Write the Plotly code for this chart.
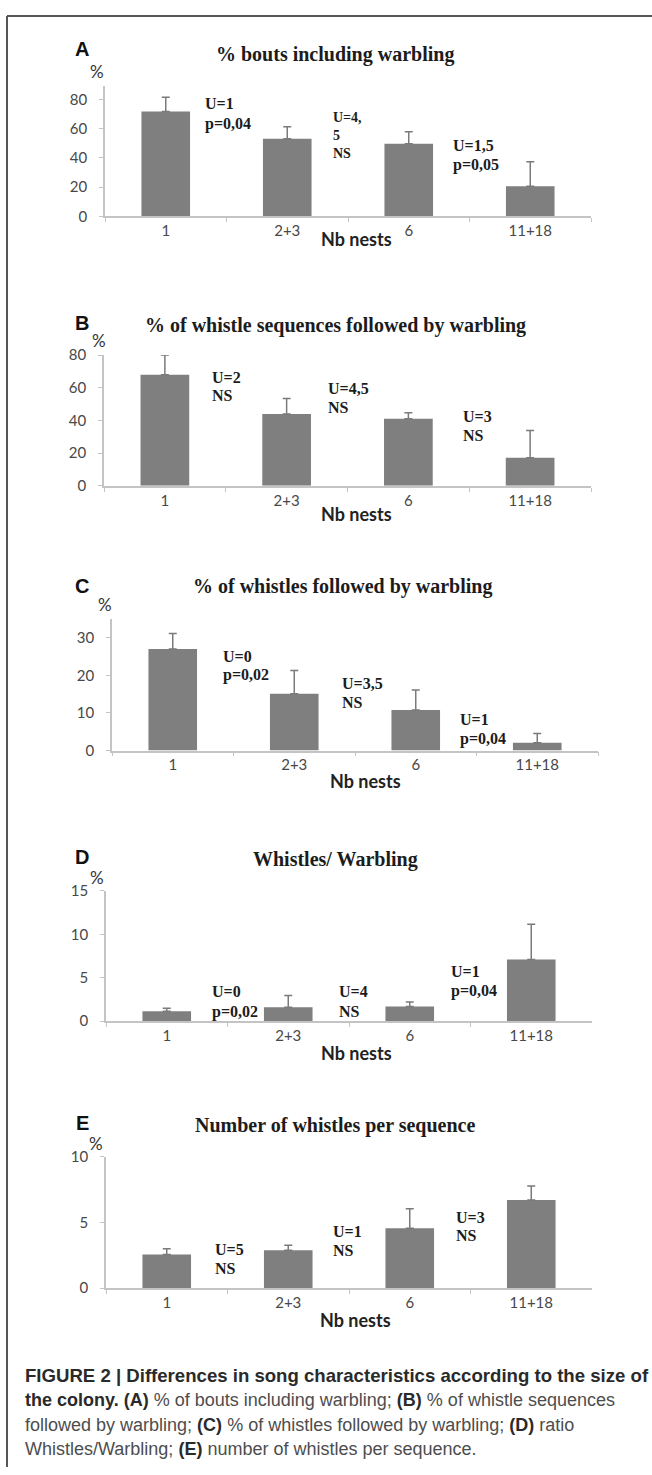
import plotly.graph_objects as go

W, H = 652, 1475

categories = ["1", "2+3", "6", "11+18"]

# Panel values (bar height) and upper error (SD above mean)
a_vals = [71.8, 53.2, 49.8, 20.7]
a_err = [9.7, 8.1, 8.1, 16.7]
b_vals = [67.9, 43.9, 41.1, 17.1]
b_err = [12.1, 9.5, 3.6, 16.8]
c_vals = [27.0, 15.1, 10.8, 2.1]
c_err = [4.1, 6.2, 5.3, 2.4]
d_vals = [1.15, 1.6, 1.7, 7.1]
d_err = [0.35, 1.35, 0.5, 4.05]
e_vals = [2.56, 2.88, 4.56, 6.69]
e_err = [0.44, 0.38, 1.48, 1.08]

titles = ["% bouts including warbling",
          "% of whistle sequences followed by warbling",
          "% of whistles followed by warbling",
          "Whistles/ Warbling",
          "Number of whistles per sequence"]
letters = ["A", "B", "C", "D", "E"]

a_stats = ["U=1", "p=0,04", "U=4,<br>5<br>NS", "U=1,5", "p=0,05"]
b_stats = ["U=2", "NS", "U=4,5", "NS", "U=3", "NS"]
c_stats = ["U=0", "p=0,02", "U=3,5", "NS", "U=1", "p=0,04"]
d_stats = ["U=0", "p=0,02", "U=4", "NS", "U=1", "p=0,04"]
e_stats = ["U=5", "NS", "U=1", "NS", "U=3", "NS"]

y_ranges = [[0, 89.5], [0, 80], [0, 35], [0, 15], [0, 10]]
y_ticks = [[0, 20, 40, 60, 80], [0, 20, 40, 60, 80], [0, 10, 20, 30], [0, 5, 10, 15], [0, 5, 10]]

# ---------- layout geometry (pixels) ----------
plot_boxes = [  # x0, x1, y_bottom, y_top
    (105, 591, 209.0, 76.5),
    (104, 591, 481.7, 349.3),
    (112, 598, 749.7, 616.4),
    (106, 592, 1023.7, 891.7),
    (106, 592, 1294.0, 1160.7),
]
letter_pos = [(82, 39), (82, 317), (82, 583), (82, 857), (82, 1127)]
title_pos = [(335, 45), (335, 319), (342, 584), (335, 860), (335, 1129)]
pct_pos = [(97, 62), (99, 335), (105, 602), (97, 878), (96, 1147)]
nb_pos = [(357, 232), (357, 510), (365, 781), (356, 1056), (355, 1326)]
stat_pos = [
    [(203, 95), (203, 115), (331, 127, 14), (451, 137), (451, 157)],
    [(210, 372), (210, 390), (326, 383), (326, 402), (461, 412), (461, 431)],
    [(221, 654), (221, 673), (340, 682), (340, 701), (458, 718), (458, 738)],
    [(210, 994), (210, 1014), (337, 994), (337, 1014), (449, 973), (449, 993)],
    [(213, 1255), (213, 1274), (331, 1237), (331, 1256), (454, 1222), (454, 1241)],
]


def px(x):
    return x / W


def py(y):
    return 1 - y / H


values = [a_vals, b_vals, c_vals, d_vals, e_vals]
errors = [a_err, b_err, c_err, d_err, e_err]
stats = [a_stats, b_stats, c_stats, d_stats, e_stats]

BAR = "#7f7f7f"
AXIS = "#c4c4c4"
TXT = "#1c1c1c"
TICK_TXT = "#484848"

fig = go.Figure()
annotations = []
layout_axes = {}

for i in range(5):
    n = "" if i == 0 else str(i + 1)
    fig.add_trace(go.Bar(
        x=categories, y=values[i],
        xaxis="x" + n, yaxis="y" + n,
        marker=dict(color=BAR, line=dict(width=0)),
        width=0.4,
        error_y=dict(type="data", symmetric=False, array=errors[i],
                     arrayminus=[0] * 4, color="#7a7a7a", thickness=1.5, width=4),
        showlegend=False, hoverinfo="skip",
    ))
    x0, x1, yb, yt = plot_boxes[i]
    layout_axes["xaxis" + n] = dict(
        domain=[px(x0), px(x1)], anchor="y" + n,
        type="category", range=[-0.5, 3.5],
        showline=True, linecolor=AXIS, linewidth=1.5,
        ticks="outside", ticklen=4, tickcolor=AXIS, tickwidth=1.2,
        tickson="boundaries", showgrid=False, zeroline=False,
        tickfont=dict(family="Lato", size=15, color=TICK_TXT),
        fixedrange=True,
    )
    layout_axes["yaxis" + n] = dict(
        domain=[py(yb), py(yt)], anchor="x" + n,
        range=y_ranges[i], tickvals=y_ticks[i],
        showline=True, linecolor=AXIS, linewidth=1.5,
        ticks="outside", ticklen=4, tickcolor=AXIS, tickwidth=1.2,
        ticklabelstandoff=9,
        showgrid=False, zeroline=False,
        tickfont=dict(family="Lato", size=15, color=TICK_TXT),
        fixedrange=True,
    )
    lx, ly = letter_pos[i]
    annotations.append(dict(x=px(lx), y=py(ly), xref="paper", yref="paper",
                            text="<b>%s</b>" % letters[i], showarrow=False,
                            xanchor="center", yanchor="middle",
                            font=dict(family="Liberation Sans", size=20, color="#111111")))
    tx, ty = title_pos[i]
    annotations.append(dict(x=px(tx), y=py(ty), xref="paper", yref="paper",
                            text="<b>%s</b>" % titles[i], showarrow=False,
                            xanchor="center", yanchor="middle",
                            font=dict(family="Liberation Serif", size=20, color=TXT)))
    qx, qy = pct_pos[i]
    annotations.append(dict(x=px(qx), y=py(qy), xref="paper", yref="paper",
                            text="%", showarrow=False,
                            xanchor="center", yanchor="middle",
                            font=dict(family="Lato", size=17, color="#333333")))
    nx, ny = nb_pos[i]
    annotations.append(dict(x=px(nx), y=py(ny), xref="paper", yref="paper",
                            text="<b>Nb nests</b>", showarrow=False,
                            xanchor="center", yanchor="middle",
                            font=dict(family="Lato", size=18, color="#222222")))
    for txt, pos in zip(stats[i], stat_pos[i]):
        sx, sy = pos[0], pos[1]
        fs = pos[2] if len(pos) > 2 else 16
        annotations.append(dict(x=px(sx), y=py(sy), xref="paper", yref="paper",
                                text="<b>%s</b>" % txt, showarrow=False,
                                xanchor="left", yanchor="middle", align="left",
                                font=dict(family="Liberation Serif", size=fs, color=TXT)))

# caption
B = "#2a2a2a"
R = "#4d4d4d"
caption_lines = [
    "<b>FIGURE 2 | Differences in song characteristics according to the size of</b>",
    "<b>the colony. (A)</b> <span style='color:%s'>%% of bouts including warbling;</span> <b>(B)</b> <span style='color:%s'>%% of whistle sequences</span>" % (R, R),
    "<span style='color:%s'>followed by warbling;</span> <b>(C)</b> <span style='color:%s'>%% of whistles followed by warbling;</span> <b>(D)</b> <span style='color:%s'>ratio</span>" % (R, R, R),
    "<span style='color:%s'>Whistles/Warbling;</span> <b>(E)</b> <span style='color:%s'>number of whistles per sequence.</span>" % (R, R),
]
caption_y = [1382, 1407, 1432, 1457]
caption_size = [18.6, 18, 18, 18]
for line, cy, cs in zip(caption_lines, caption_y, caption_size):
    annotations.append(dict(x=px(23), y=py(cy), xref="paper", yref="paper",
                            text=line, showarrow=False,
                            xanchor="left", yanchor="middle",
                            font=dict(family="Liberation Sans", size=cs, color=B)))

shapes = [
    dict(type="line", xref="paper", yref="paper", x0=px(7), x1=px(652), y0=py(6), y1=py(6),
         line=dict(color="#555555", width=2)),
    dict(type="line", xref="paper", yref="paper", x0=px(7), x1=px(7), y0=py(6), y1=py(1475),
         line=dict(color="#555555", width=2)),
]

fig.update_layout(
    width=W, height=H,
    margin=dict(l=0, r=0, t=0, b=0),
    paper_bgcolor="white", plot_bgcolor="white",
    annotations=annotations, shapes=shapes,
    **layout_axes,
)

fig.write_html("out.html", config={"displayModeBar": False},
               post_script="document.body.style.margin='0';document.body.style.padding='0';")
